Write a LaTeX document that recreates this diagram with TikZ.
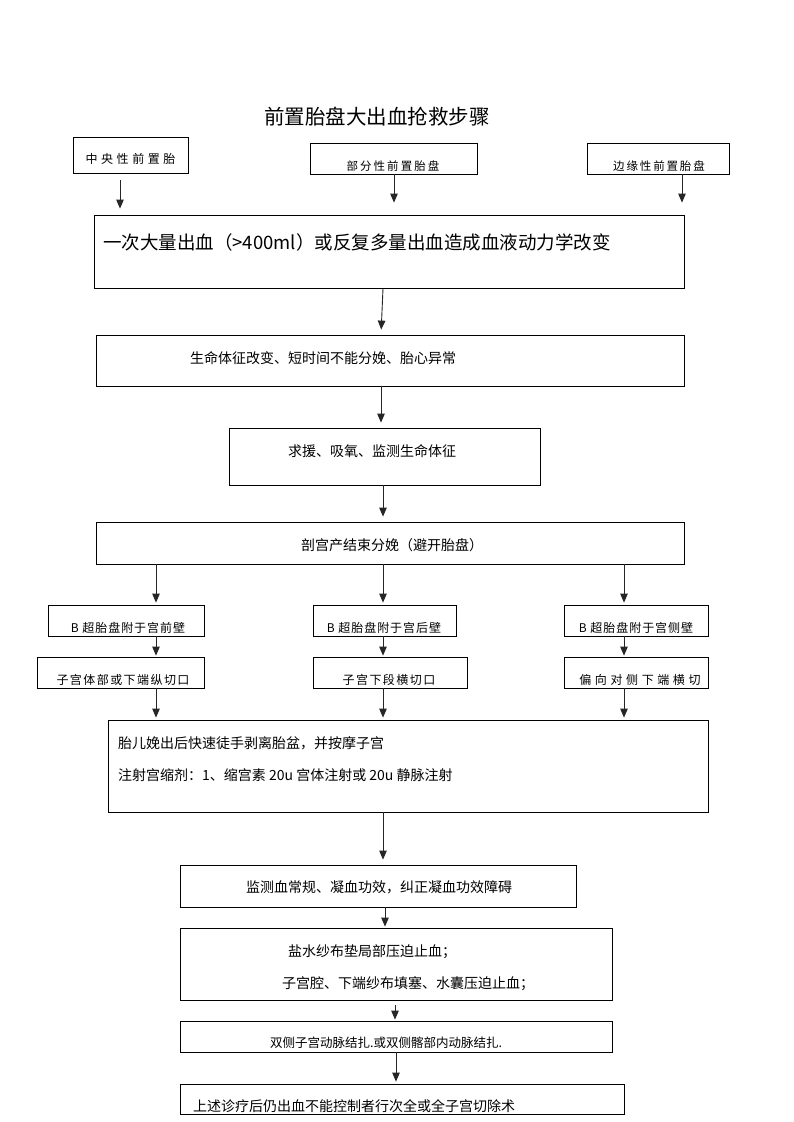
\documentclass[tikz,border=0pt]{standalone}
\usepackage{fontspec}
\setmainfont{Noto Sans CJK SC}
\usetikzlibrary{arrows.meta,fit}
\begin{document}
\begin{tikzpicture}[x=1pt,y=-1pt,
  box/.style={draw=black,line width=0.8pt,inner sep=0pt,fill=none},
  txt/.style={inner sep=0pt,font=\fontsize{14}{16}\selectfont},
  stxt/.style={inner sep=0pt,font=\fontsize{12}{14}\selectfont},
  arr/.style={draw=black!85,line width=0.9pt,-{Triangle[length=9pt,width=7.5pt]}}]
\useasboundingbox (0,0) rectangle (793,1122);
\fill[white] (0,0) rectangle (793,1122);
% title
\node[inner sep=0pt,font=\fontsize{20.5}{22}\selectfont] (title) at (377,117) {前置胎盘大出血抢救步骤};
% boxes
\node[box,fit={(73,137) (188,173)}] (A) {};
\node[box,fit={(310,143) (477,174)}] (B) {};
\node[box,fit={(587,143) (729,174)}] (C) {};
\node[box,fit={(94,215) (684,288)}] (D) {};
\node[box,fit={(96,335) (684,386)}] (E) {};
\node[box,fit={(229,428) (540,485)}] (F) {};
\node[box,fit={(96,522) (684,564)}] (G) {};
\node[box,fit={(48,605) (204,636)}] (H1) {};
\node[box,fit={(313,605) (456,636)}] (H2) {};
\node[box,fit={(564,605) (708,636)}] (H3) {};
\node[box,fit={(37,657) (204,688)}] (I1) {};
\node[box,fit={(313,657) (467,688)}] (I2) {};
\node[box,fit={(564,657) (708,688)}] (I3) {};
\node[box,fit={(108,720) (708,812)}] (J) {};
\node[box,fit={(180,865) (576,907)}] (K) {};
\node[box,fit={(180,928) (612,1000)}] (L) {};
\node[box,fit={(180,1021) (612,1052)}] (M) {};
\node[box,fit={(180,1084) (624,1114)}] (N) {};
% texts
\node[stxt] (tA) at (130.5,159) {\addfontfeature{LetterSpace=30}中央性前置胎};
\node[stxt,font=\fontsize{11.5}{13}\selectfont] (tB) at (393,166) {\addfontfeature{LetterSpace=18}部分性前置胎盘};
\node[stxt,font=\fontsize{11.5}{13}\selectfont] (tC) at (659,166) {\addfontfeature{LetterSpace=16}边缘性前置胎盘};
\node[txt,anchor=west,font=\fontsize{18.5}{20}\selectfont] (tD) at (103,242) {一次大量出血（>400ml）或反复多量出血造成血液动力学改变};
\node[txt,anchor=west] (tE) at (190,358) {生命体征改变、短时间不能分娩、胎心异常};
\node[txt,anchor=west] (tF) at (288,451) {求援、吸氧、监测生命体征};
\node[txt] (tG) at (392,545) {剖宫产结束分娩（避开胎盘）};
\node[stxt] (tH1) at (128,628) {\addfontfeature{LetterSpace=8}B 超胎盘附于宫前壁};
\node[stxt] (tH2) at (384,628) {\addfontfeature{LetterSpace=8}B 超胎盘附于宫后壁};
\node[stxt] (tH3) at (636,628) {\addfontfeature{LetterSpace=8}B 超胎盘附于宫侧壁};
\node[stxt] (tI1) at (123,680) {\addfontfeature{LetterSpace=12}子宫体部或下端纵切口};
\node[stxt] (tI2) at (389,680) {\addfontfeature{LetterSpace=12}子宫下段横切口};
\node[stxt] (tI3) at (640,680) {\addfontfeature{LetterSpace=30}偏向对侧下端横切};
\node[txt,anchor=west] (tJ1) at (118,743) {胎儿娩出后快速徒手剥离胎盆，并按摩子宫};
\node[txt,anchor=west] (tJ2) at (118,775) {注射宫缩剂：1、缩宫素 20u 宫体注射或 20u 静脉注射};
\node[txt] (tK) at (379,887) {监测血常规、凝血功效，纠正凝血功效障碍};
\node[txt,anchor=west] (tL1) at (288,952) {盐水纱布垫局部压迫止血；};
\node[txt,anchor=west] (tL2) at (282,984) {子宫腔、下端纱布填塞、水囊压迫止血；};
\node[stxt,font=\fontsize{12.5}{14}\selectfont] (tM) at (386,1043) {双侧子宫动脉结扎.或双侧髂部内动脉结扎.};
\node[txt,anchor=west] (tN) at (193,1106) {上述诊疗后仍出血不能控制者行次全或全子宫切除术};
% column coordinates
\coordinate (xa) at (120,0);
\coordinate (xb) at (394,0);
\coordinate (xc) at (682,0);
\coordinate (x1) at (156,0);
\coordinate (x2) at (383,0);
\coordinate (x3) at (624,0);
\coordinate (xk) at (385,0);
\coordinate (xm) at (395,0);
\coordinate (xn) at (396,0);
% arrows
\draw[arr,shorten <=7pt,shorten >=6pt] (A.south -| xa) -- (D.north -| xa);
\draw[arr,shorten >=12pt] (B.south -| xb) -- (D.north -| xb);
\draw[arr,shorten >=12pt] (C.south -| xc) -- (D.north -| xc);
\draw[arr,shorten >=5pt] (D.south -| x2) -- ([xshift=-2pt]E.north -| x2);
\draw[arr,shorten >=5pt] ([xshift=-2pt]E.south -| x2) -- ([xshift=-2pt]F.north -| x2);
\draw[arr,shorten >=5pt] (F.south -| x2) -- (G.north -| x2);
\foreach \c in {1,2,3}{
  \draw[arr,shorten >=2pt] (G.south -| x\c) -- (H\c.north -| x\c);
  \draw[arr,shorten >=1pt] (H\c.south -| x\c) -- (I\c.north -| x\c);
  \draw[arr,shorten >=2pt] (I\c.south -| x\c) -- (J.north -| x\c);
}
\draw[arr,shorten >=5pt] (J.south -| x2) -- (K.north -| x2);
\draw[arr,shorten >=1pt] (K.south -| xk) -- (L.north -| xk);
\draw[arr,shorten <=5pt,shorten >=1pt] (L.south -| xm) -- (M.north -| xm);
\draw[arr,shorten >=2pt] (M.south -| xn) -- (N.north -| xn);
\end{tikzpicture}
\end{document}
